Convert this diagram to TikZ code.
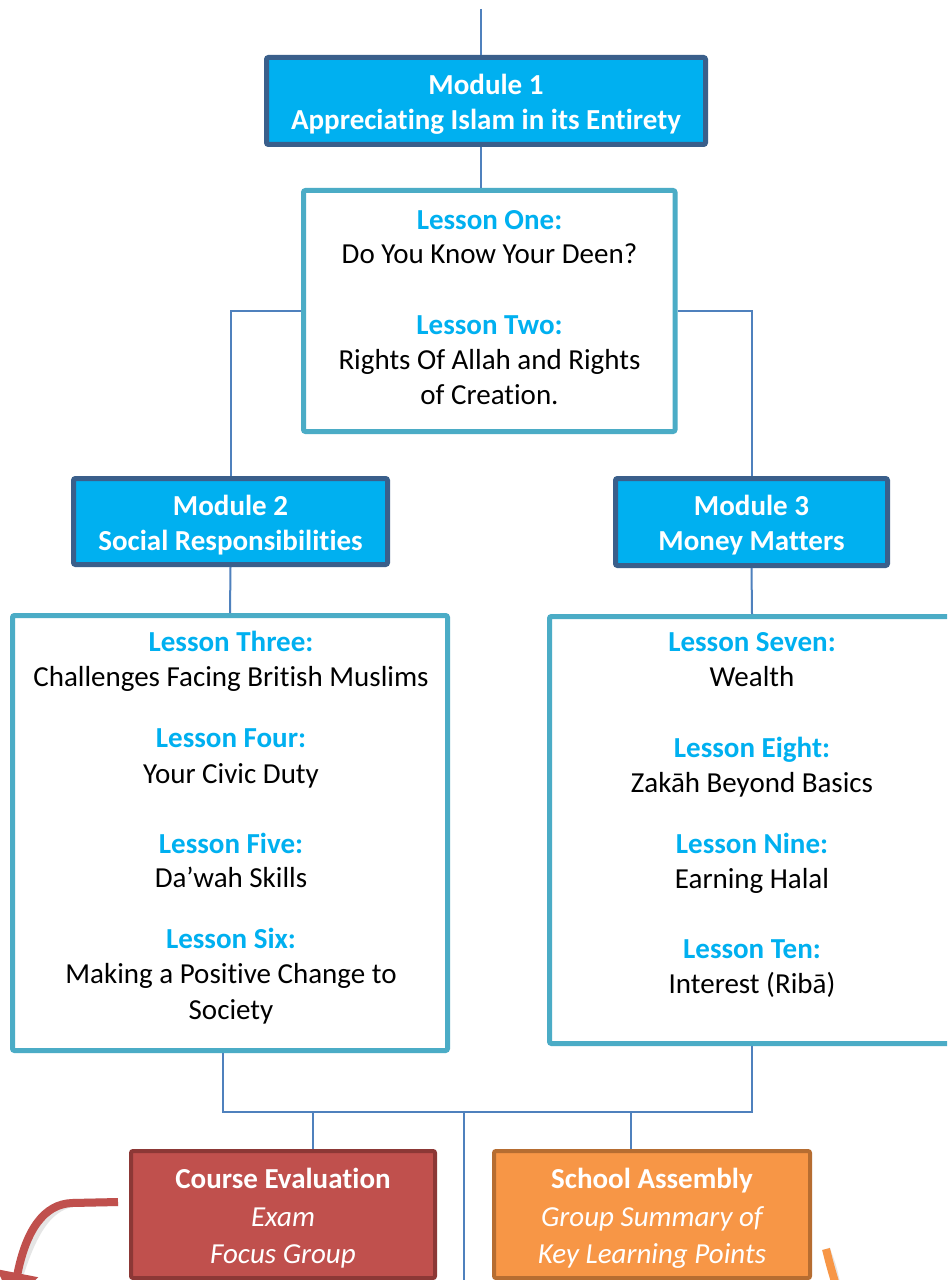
\documentclass[tikz,border=0pt]{standalone}
\usepackage{fontspec}
\setmainfont{Carlito}[Ligatures=NoCommon]
\usetikzlibrary{arrows.meta}
\definecolor{modfill}{HTML}{00B0F0}
\definecolor{moddraw}{HTML}{3A5F8B}
\definecolor{lesdraw}{HTML}{4BACC6}
\definecolor{leshead}{HTML}{00B0F0}
\definecolor{conn}{HTML}{4F81BD}
\definecolor{redfill}{HTML}{C0504D}
\definecolor{reddraw}{HTML}{8C3836}
\definecolor{orfill}{HTML}{F79646}
\definecolor{ordraw}{HTML}{B66D31}
\begin{document}
\begin{tikzpicture}[x=0.75pt,y=-0.75pt,
  dims/.style 2 args={minimum width=#1*0.75pt, minimum height=#2*0.75pt},
  anybox/.style={rectangle, inner sep=0pt, rounded corners=1.5pt},
  modbox/.style={anybox, fill=modfill, draw=moddraw, line width=3.75pt},
  lesbox/.style={anybox, fill=white, draw=lesdraw, line width=3.75pt},
  redbox/.style={anybox, fill=redfill, draw=reddraw, line width=3pt},
  orbox/.style={anybox, fill=orfill, draw=ordraw, line width=3pt},
  txt/.style={anchor=base, inner sep=0pt, font=\fontsize{21.75}{26.25}\selectfont},
  modtxt/.style={txt, text=white, font=\fontsize{21.75}{26.25}\selectfont\bfseries},
  headtxt/.style={txt, text=leshead, font=\fontsize{21.75}{26.25}\selectfont\bfseries},
  bodytxt/.style={txt, text=black},
  wtxtb/.style={txt, text=white, font=\fontsize{21.75}{26.25}\selectfont\bfseries},
  wtxti/.style={txt, text=white, font=\fontsize{21.75}{26.25}\selectfont\itshape},
  connector/.style={draw=conn, line width=1.5pt},
  curvy/.style={line width=6pt}
]
\useasboundingbox (0,0) rectangle (947,1280);
\clip (0,0) rectangle (947,1280);
\fill[white] (0,0) rectangle (947,1280);

% boxes
\node[modbox, dims={439}{87}] (m1) at (486,101) {};
\node[lesbox, dims={371.5}{241}] (l1) at (489.25,311) {};
\node[modbox, dims={314}{86}] (m2) at (230.5,521.5) {};
\node[modbox, dims={272}{87}] (m3) at (751.5,522) {};
\node[lesbox, dims={435}{435}] (l2) at (230,833) {};
\node[lesbox, dims={405}{427}] (l3) at (752,830) {};
\node[redbox, dims={304}{127}] (ce) at (283,1214.5) {};
\node[orbox, dims={316}{127}] (sa) at (652,1214.5) {};

% connector coordinates
\coordinate (top) at (481,9);
\coordinate (jl) at (223,1112);
\coordinate (jr) at (752,1112);
\coordinate (bl) at (313,1112);
\coordinate (br) at (631,1112);
\coordinate (bc) at (464,1112);
\coordinate (bend) at (464,1285);

% connectors
\draw[connector] (top) -- (top |- m1.north);
\draw[connector] (top |- m1.south) -- (top |- l1.north);
\draw[connector] (l1.west) -| (m2.north);
\draw[connector] (l1.east) -| (m3.north);
\draw[connector] (m2.south) -- (l2.north);
\draw[connector] (m3.south) -- (l3.north);
\draw[connector] (jl |- l2.south) -- (jl) -- (jr) -- (jr |- l3.south);
\draw[connector] (bl) -- (bl |- ce.north);
\draw[connector] (br) -- (br |- sa.north);
\draw[connector] (bc) -- (bend);

% module texts
\node[modtxt] (m1a) at (486,95) {Module 1};
\node[modtxt] (m1b) at (486,130) {Appreciating Islam in its Entirety};
\node[modtxt] (m2a) at (230.5,515) {Module 2};
\node[modtxt] (m2b) at (230.5,550) {Social Responsibilities};
\node[modtxt] (m3a) at (751.5,515) {Module 3};
\node[modtxt] (m3b) at (751.5,550) {Money Matters};

% lesson box 1
\node[headtxt] (h1) at (489.5,229) {Lesson One:};
\node[bodytxt] (b1) at (489.5,263) {Do You Know Your Deen?};
\node[headtxt] (h2) at (489.5,334) {Lesson Two:};
\node[bodytxt] (b2a) at (489.5,369) {Rights Of Allah and Rights};
\node[bodytxt] (b2b) at (489.5,404) {of Creation.};

% lesson box 2
\node[headtxt] (h3) at (231,651) {Lesson Three:};
\node[bodytxt] (b3) at (231,686) {Challenges Facing British Muslims};
\node[headtxt] (h4) at (231,747) {Lesson Four:};
\node[bodytxt] (b4) at (231,783) {Your Civic Duty};
\node[headtxt] (h5) at (231,853) {Lesson Five:};
\node[bodytxt] (b5) at (231,887) {Da’wah Skills};
\node[headtxt] (h6) at (231,948) {Lesson Six:};
\node[bodytxt] (b6a) at (231,983) {Making a Positive Change to};
\node[bodytxt] (b6b) at (231,1019) {Society};

% lesson box 3
\node[headtxt] (h7) at (752,651) {Lesson Seven:};
\node[bodytxt] (b7) at (752,686) {Wealth};
\node[headtxt] (h8) at (752,757) {Lesson Eight:};
\node[bodytxt] (b8) at (752,792) {Zakāh Beyond Basics};
\node[headtxt] (h9) at (752,853) {Lesson Nine:};
\node[bodytxt] (b9) at (752,888) {Earning Halal};
\node[headtxt] (h10) at (752,958) {Lesson Ten:};
\node[bodytxt] (b10) at (752,993) {Interest (Ribā)};

% bottom boxes text
\node[wtxtb] (ce1) at (283,1188) {Course Evaluation};
\node[wtxti] (ce2) at (283,1226) {Exam};
\node[wtxti] (ce3) at (283,1263) {Focus Group};
\node[wtxtb] (sa1) at (652,1188) {School Assembly};
\node[wtxti] (sa2) at (652,1226) {Group Summary of};
\node[wtxti] (sa3) at (652,1263) {Key Learning Points};

% curved arrows
\coordinate (rs) at (118,1202);
\coordinate (rk) at (72,1203);
\coordinate (re) at (12,1302);
\coordinate (os) at (826,1249);
\coordinate (oe) at (838,1292);
\draw[curvy, black!10, shift={(3,4)}] (rs) -- (rk) .. controls (44,1204) and (26,1230) .. (re);
\draw[curvy, redfill, -{Triangle[width=30pt,length=22pt]}] (rs) -- (rk) .. controls (44,1204) and (26,1230) .. (re);
\draw[curvy, black!10, shift={(3,3)}] (os) .. controls (830,1265) .. (oe);
\draw[curvy, orfill] (os) .. controls (830,1265) .. (oe);
\end{tikzpicture}
\end{document}
